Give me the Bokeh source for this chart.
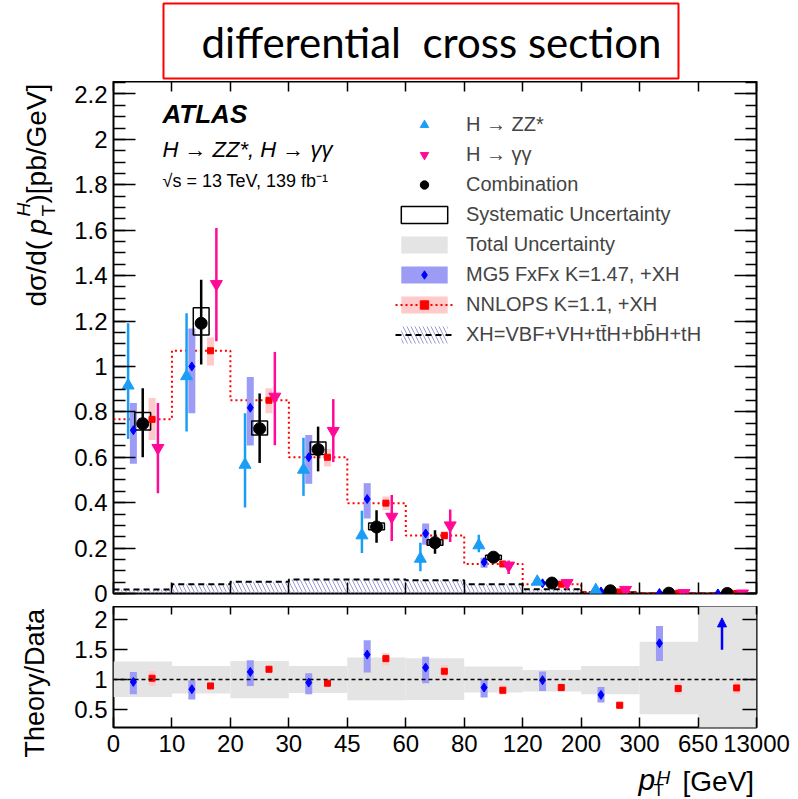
import numpy as np
from bokeh.plotting import figure
from bokeh.models import (Range1d, LinearAxis, FixedTicker, SingleIntervalTicker, BoxAnnotation,
                          PrintfTickFormatter, Label, Legend, LegendItem, Arrow, NormalHead, Span)
from bokeh.layouts import column, row
from bokeh.embed import file_html
from bokeh.resources import INLINE

FONT = "Liberation Sans"

# ---------------- data ----------------
bin_labels = ["0", "10", "20", "30", "45", "60", "80", "120", "200", "300", "650", "13000"]

# combination (pb/GeV)
comb = [0.748, 1.19, 0.726, 0.634, 0.293, 0.224, 0.160, 0.046, 0.012, 0.0015, 0.0001]
comb_lo = [0.600, 1.009, 0.575, 0.538, 0.224, 0.175, 0.147, 0.040, 0.009, 0.0008, 0.00003]
comb_hi = [0.904, 1.382, 0.881, 0.735, 0.367, 0.279, 0.173, 0.052, 0.015, 0.0022, 0.0002]
syst_lo = [0.720, 1.138, 0.698, 0.612, 0.281, 0.212, 0.150, 0.044, 0.011, 0.0013, 0.00008]
syst_hi = [0.797, 1.259, 0.760, 0.667, 0.311, 0.237, 0.169, 0.048, 0.013, 0.0017, 0.00012]

# H -> ZZ* (first 9 bins)
zz = [0.916, 0.957, 0.567, 0.545, 0.256, 0.153, 0.212, 0.052, 0.015]
zz_lo = [0.680, 0.713, 0.379, 0.430, 0.178, 0.098, 0.182, 0.045, 0.010]
zz_hi = [1.190, 1.234, 0.794, 0.686, 0.364, 0.224, 0.259, 0.060, 0.020]

# H -> gamma gamma
yy = [0.641, 1.363, 0.867, 0.716, 0.338, 0.300, 0.123, 0.046, 0.016, 0.002, 0.0002]
yy_lo = [0.441, 1.111, 0.653, 0.579, 0.231, 0.227, 0.086, 0.038, 0.012, 0.001, 0.0001]
yy_hi = [0.839, 1.610, 1.064, 0.856, 0.434, 0.370, 0.145, 0.054, 0.020, 0.003, 0.0003]

# MG5 FxFx prediction
mg5 = [0.719, 1.000, 0.818, 0.600, 0.416, 0.264, 0.138, 0.045, 0.009, 0.0024, 0.0003]
mg5_lo = [0.572, 0.794, 0.652, 0.483, 0.330, 0.215, 0.113, 0.040, 0.007, 0.0020, 0.0002]
mg5_hi = [0.839, 1.167, 0.953, 0.698, 0.486, 0.308, 0.157, 0.052, 0.011, 0.0030, 0.0004]

# NNLOPS prediction
nnlops = [0.767, 1.069, 0.851, 0.600, 0.398, 0.255, 0.130, 0.041, 0.007, 0.0013, 0.0001]
nnlops_lo = [0.676, 1.004, 0.794, 0.560, 0.367, 0.237, 0.119, 0.038, 0.006, 0.0011, 0.00008]
nnlops_hi = [0.861, 1.127, 0.904, 0.637, 0.427, 0.274, 0.142, 0.044, 0.008, 0.0015, 0.00012]

# XH contribution
xh = [0.018, 0.041, 0.052, 0.062, 0.062, 0.058, 0.041, 0.019, 0.005, 0.0005, 0.0]

# ratio panel
total_lo = [0.711, 0.767, 0.689, 0.778, 0.656, 0.661, 0.783, 0.800, 0.756, 0.422, 0.0]
total_hi = [1.300, 1.228, 1.311, 1.228, 1.367, 1.356, 1.217, 1.161, 1.228, 1.633, 3.0]
mg5_ratio = [0.961, 0.839, 1.128, 0.950, 1.417, 1.200, 0.867, 0.989, 0.744, 1.606]
mg5_ratio_lo = [0.756, 0.667, 0.894, 0.756, 1.117, 0.939, 0.700, 0.811, 0.617, 1.311]
mg5_ratio_hi = [1.128, 0.989, 1.322, 1.106, 1.656, 1.383, 1.006, 1.133, 0.878, 1.894]
mg5_ratio_arrow = [1.50, 2.03]   # last bin: off-scale, drawn as arrow (from, to)
nnlops_ratio = [1.022, 0.894, 1.172, 0.939, 1.350, 1.139, 0.822, 0.867, 0.572, 0.850, 0.861]
nnlops_ratio_lo = [0.894, 0.850, 1.110, 0.900, 1.240, 1.040, 0.750, 0.800, 0.510, 0.750, 0.760]
nnlops_ratio_hi = [1.144, 0.940, 1.235, 0.980, 1.440, 1.240, 0.900, 0.940, 0.630, 0.950, 0.960]

# ---------------- helpers ----------------
n_bins = len(bin_labels) - 1
edges = np.arange(n_bins + 1, dtype=float)
centers = edges[:-1] + 0.5
step_y = lambda v: list(v) + [v[-1]]

C_ZZ = "#1a9ef5"
C_YY = "#ff0a96"
C_MG5_BOX = "#9c9cf7"
C_MG5 = "#0000ff"
C_NN_BOX = "#ffcaca"
C_NN = "#ff0000"
C_GRAY = "#e4e4e4"
C_HATCH = "#9a9ad6"


def style_axis(ax, tick_in, minor_in=0, labels=True, size="24px"):
    ax.axis_line_color = None
    ax.major_tick_in = tick_in
    ax.major_tick_out = 0
    ax.minor_tick_in = minor_in
    ax.minor_tick_out = 0
    ax.major_tick_line_color = "black"
    ax.minor_tick_line_color = "black" if minor_in else None
    ax.major_tick_line_width = 1.5
    ax.minor_tick_line_width = 1.5
    if labels:
        ax.major_label_text_font = FONT
        ax.major_label_text_font_size = size
        ax.major_label_text_color = "black"
    else:
        ax.major_label_text_font_size = "0px"
        ax.major_label_text_color = None
        ax.major_label_standoff = 0


def x_ticker():
    return FixedTicker(ticks=list(edges))


def strip(w, h):
    f = figure(width=w, height=h, x_range=Range1d(0, w), y_range=Range1d(0, h),
               x_axis_type=None, y_axis_type=None, output_backend="svg", toolbar_location=None,
               min_border=0)
    f.outline_line_color = None
    f.background_fill_color = "white"
    f.border_fill_color = "white"
    return f


def panel(h, y_range, mb_top, mb_bottom):
    f = figure(width=738, height=h, x_range=Range1d(0, n_bins), y_range=y_range,
               x_axis_type=None, y_axis_type=None, output_backend="svg", toolbar_location=None,
               min_border_left=53, min_border_right=42, min_border_top=mb_top,
               min_border_bottom=mb_bottom)
    f.outline_line_color = "black"
    f.outline_line_width = 2
    f.background_fill_color = "white"
    f.border_fill_color = "white"
    return f


def txt_label(fig, text, sx, sy, size, style="normal", font=FONT, angle=0.0, align="left"):
    fig.add_layout(Label(x=sx, y=sy, x_units="screen", y_units="screen", text=text, angle=angle,
                         text_font=font, text_font_size=size, text_font_style=style,
                         text_color="black", text_baseline="middle", text_align=align))


x_over = {i: lab for i, lab in enumerate(bin_labels)}

# ---------------- title strip ----------------
title_fig = strip(798, 81)
title_fig.add_layout(BoxAnnotation(left=163, right=678, bottom=3, top=78, left_units="screen",
                                   right_units="screen", bottom_units="screen", top_units="screen",
                                   fill_color=None, line_color="red", line_alpha=1.0, line_width=2))
txt_label(title_fig, "differential\u00a0 cross section", 431, 40, "42px", font="Lato", align="center")

# ---------------- top panel ----------------
top = panel(525, Range1d(0, 2.255), 0, 13)

ax = LinearAxis(ticker=SingleIntervalTicker(interval=0.2, num_minor_ticks=4),
                formatter=PrintfTickFormatter(format="%.2g"))
style_axis(ax, 22, 12)
ax.major_label_standoff = 6
top.add_layout(ax, "left")
ax = LinearAxis(ticker=SingleIntervalTicker(interval=0.2, num_minor_ticks=4))
style_axis(ax, 22, 11, labels=False)
top.add_layout(ax, "right")
ax = LinearAxis(ticker=x_ticker())
style_axis(ax, 11, labels=False)
top.add_layout(ax, "below")
ax = LinearAxis(ticker=x_ticker())
style_axis(ax, 10, labels=False)
top.add_layout(ax, "above")

xh_q = top.quad(left=edges[:-1], right=edges[1:], bottom=0, top=xh, fill_color=None, line_color=None,
                hatch_pattern="\\", hatch_color=C_HATCH, hatch_weight=1, hatch_scale=8)
xh_s = top.step(x=edges, y=step_y(xh), mode="after", line_color="black", line_width=2, line_dash="6 4")
nn_s = top.step(x=edges, y=step_y(nnlops), mode="after", line_color=C_NN, line_width=2, line_dash="2 3")

tot_dummy = top.quad(left=[np.nan], right=[np.nan], bottom=[np.nan], top=[np.nan],
                     fill_color=C_GRAY, line_color=None)

mg5_b = top.vbar(x=centers - 0.16, width=0.12, bottom=mg5_lo, top=mg5_hi, fill_color=C_MG5_BOX,
                 line_color=None)
nn_b = top.vbar(x=centers + 0.16, width=0.12, bottom=nnlops_lo, top=nnlops_hi, fill_color=C_NN_BOX,
                line_color=None)

zx = centers[:len(zz)] - 0.25
top.segment(x0=zx, x1=zx, y0=zz_lo, y1=zz_hi, line_color=C_ZZ, line_width=2.5)
yx = centers + 0.26
top.segment(x0=yx, x1=yx, y0=yy_lo, y1=yy_hi, line_color=C_YY, line_width=2.5)
top.segment(x0=centers, x1=centers, y0=comb_lo, y1=comb_hi, line_color="black", line_width=2.5)
syst_b = top.vbar(x=centers, width=0.27, bottom=syst_lo, top=syst_hi, fill_color=None,
                  line_color="black", line_width=1.5)

mg5_m = top.scatter(x=centers - 0.16, y=mg5, marker="diamond", size=9, color=C_MG5)
nn_m = top.scatter(x=centers + 0.16, y=nnlops, marker="square", size=6, color=C_NN)
zz_m = top.scatter(x=zx, y=zz, marker="triangle", size=12, color=C_ZZ)
yy_m = top.scatter(x=yx, y=yy, marker="inverted_triangle", size=12, color=C_YY)
comb_m = top.scatter(x=centers, y=comb, marker="circle", size=12, color="black")

legend = Legend(items=[
    LegendItem(label="H → ZZ*", renderers=[zz_m]),
    LegendItem(label="H → γγ", renderers=[yy_m]),
    LegendItem(label="Combination", renderers=[comb_m]),
    LegendItem(label="Systematic Uncertainty", renderers=[syst_b]),
    LegendItem(label="Total Uncertainty", renderers=[tot_dummy]),
    LegendItem(label="MG5 FxFx K=1.47, +XH", renderers=[mg5_b, mg5_m]),
    LegendItem(label="NNLOPS K=1.1, +XH", renderers=[nn_b, nn_s, nn_m]),
    LegendItem(label="XH=VBF+VH+tt̄H+bb̄H+tH", renderers=[xh_q, xh_s]),
], location=(282, 247), glyph_width=58, glyph_height=21, label_height=21, spacing=7, padding=0,
    margin=0, label_standoff=13, border_line_color=None, background_fill_alpha=0,
    label_text_font=FONT, label_text_font_size="20px")
top.add_layout(legend)

txt_label(top, "ATLAS", 49, 480, "26px", style="bold italic")
txt_label(top, "H → ZZ*, H → γγ", 49, 444, "22px", style="italic")
txt_label(top, "√s = 13 TeV, 139 fb⁻¹", 49, 413, "18px")

# ---------------- ratio panel ----------------
bot = panel(155, Range1d(0.2, 2.22), 0, 34)

ax = LinearAxis(ticker=FixedTicker(ticks=[0.5, 1.0, 1.5, 2.0]), formatter=PrintfTickFormatter(format="%.2g"))
style_axis(ax, 14)
ax.major_label_standoff = 6
bot.add_layout(ax, "left")
ax = LinearAxis(ticker=FixedTicker(ticks=[0.5, 1.0, 1.5, 2.0]))
style_axis(ax, 14, labels=False)
bot.add_layout(ax, "right")
ax = LinearAxis(ticker=x_ticker(), major_label_overrides=x_over)
style_axis(ax, 10)
ax.major_label_standoff = 7
bot.add_layout(ax, "below")
ax = LinearAxis(ticker=x_ticker())
style_axis(ax, 8, labels=False)
bot.add_layout(ax, "above")

bot.quad(left=edges[:-1], right=edges[1:], bottom=total_lo, top=total_hi, fill_color=C_GRAY,
         line_color=None)
bot.add_layout(Span(location=1.0, dimension="width", line_color="black", line_width=1.5,
                    line_dash="4 3"))
nr = len(mg5_ratio)
bot.vbar(x=centers[:nr] - 0.16, width=0.12, bottom=mg5_ratio_lo, top=mg5_ratio_hi,
         fill_color=C_MG5_BOX, line_color=None)
bot.vbar(x=centers + 0.16, width=0.12, bottom=nnlops_ratio_lo, top=nnlops_ratio_hi,
         fill_color=C_NN_BOX, line_color=None)
bot.scatter(x=centers[:nr] - 0.16, y=mg5_ratio, marker="diamond", size=9, color=C_MG5)
bot.scatter(x=centers + 0.16, y=nnlops_ratio, marker="square", size=6, color=C_NN)
ax_x = centers[-1] - 0.09
bot.add_layout(Arrow(x_start=ax_x, y_start=mg5_ratio_arrow[0], x_end=ax_x, y_end=mg5_ratio_arrow[1],
                     line_color=C_MG5, line_width=2.5,
                     end=NormalHead(size=9, fill_color=C_MG5, line_color=C_MG5)))

# ---------------- axis-title strips ----------------
left_fig = strip(60, 680)
R = np.pi / 2
txt_label(left_fig, "dσ/d(", 36, 455, "28px", angle=R)
txt_label(left_fig, "p", 36, 527, "28px", style="italic", angle=R)
txt_label(left_fig, "H", 23, 545, "19px", style="italic", angle=R)
txt_label(left_fig, "T", 48, 545, "19px", angle=R)
txt_label(left_fig, ")[pb/GeV]", 36, 558, "28px", angle=R)
txt_label(left_fig, "Theory/Data", 34, 4, "27px", angle=R)

xt_fig = strip(798, 38)
txt_label(xt_fig, "p", 638, 20, "30px", style="italic")
txt_label(xt_fig, "H", 656, 22, "19px", style="italic")
txt_label(xt_fig, "T", 653, 9, "17px")
txt_label(xt_fig, "[GeV]", 682, 18, "28px")

layout = column(title_fig, row(left_fig, column(top, bot, spacing=0), spacing=0), xt_fig, spacing=0)
open("out.html", "w").write(file_html(layout, INLINE))
